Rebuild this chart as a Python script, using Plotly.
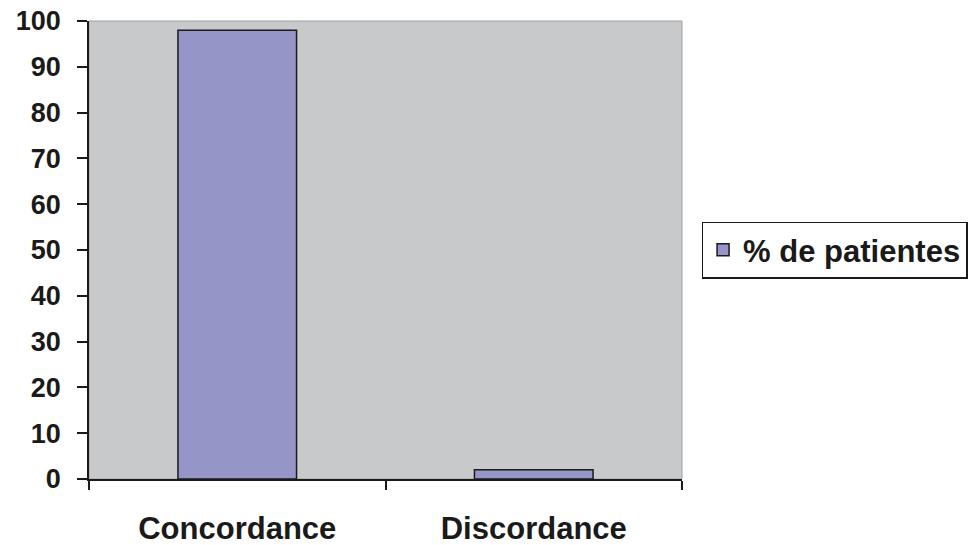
import plotly.graph_objects as go

categories = ["Concordance", "Discordance"]
values = [98, 2]
series_name = "% de patientes"
y_ticks = [0, 10, 20, 30, 40, 50, 60, 70, 80, 90, 100]

W, H = 970, 537
fig = go.Figure()
fig.add_trace(go.Bar(
    x=categories, y=values, name=series_name,
    marker=dict(color="#9595c8", line=dict(color="#1a1a1a", width=1.5)),
    width=0.4, hoverinfo="skip",
))
font = dict(family="Liberation Sans, Arial, sans-serif", size=31, color="#1a1a1a")
fig.update_layout(
    width=W, height=H,
    margin=dict(l=81, r=W - 81 - 593, t=13, b=H - 13 - 458, autoexpand=False),
    paper_bgcolor="white", plot_bgcolor="#c8c9cb",
    font=font,
    showlegend=True,
    legend=dict(x=1.033, y=0.5, xanchor="left", yanchor="middle",
                bordercolor="#1a1a1a", borderwidth=1.5, bgcolor="white",
                font=dict(size=31, weight="bold"), itemwidth=30),
)
fig.update_xaxes(
    tickson="boundaries", ticks="outside", ticklen=9, tickwidth=1.5, tickcolor="#1a1a1a",
    showline=True, linecolor="#1a1a1a", linewidth=1.5, mirror=False,
    tickfont=dict(size=31, weight="bold"), ticklabelstandoff=21, showgrid=False,
    ticklabeloverflow="allow",
)
fig.update_yaxes(
    range=[0, 100], tickvals=y_ticks, ticks="outside", ticklen=10, tickwidth=1.5,
    tickcolor="#1a1a1a", showline=True, linecolor="#1a1a1a", linewidth=1.5,
    showgrid=False, zeroline=False, tickfont=dict(size=27, weight="bold"),
    ticklabelstandoff=11, ticklabeloverflow="allow",
)
fig.add_shape(type="rect", xref="paper", yref="paper", x0=0, x1=1, y0=0, y1=1,
              line=dict(color="#a0a0a0", width=1), layer="below")
fig.write_html("out.html")
